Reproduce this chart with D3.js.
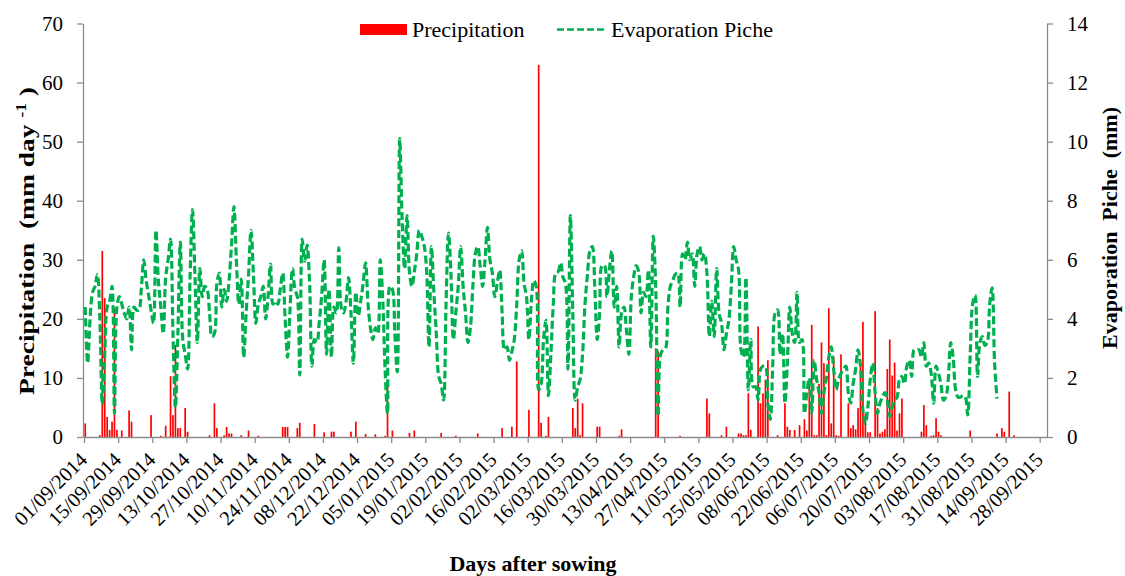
<!DOCTYPE html>
<html>
<head>
<meta charset="utf-8">
<script src="https://cdn.jsdelivr.net/npm/d3@7"></script>
<style>
  html, body { margin: 0; padding: 0; background: #ffffff; }
  svg { display: block; }
  svg text { font-family: "Liberation Serif", "Times New Roman", serif; }
</style>
</head>
<body>
<svg id="chart" width="1125" height="576"></svg>
<script>
// Daily series, one value per day starting 01/09/2014 (rows = fortnights)
const startDate = "2014-09-01";
const endDate = "2015-10-01";

// Precipitation (mm day-1)
const precipitation = [
  2.3,0,0,0,0,0,0.3,31.5,23.5,3.4,1.2,2.6,21.8,1.2,
  0,1.1,0,0,4.5,2.6,0,0,0,0,0,0,0,3.7,
  0,0,0,0.2,0,1.9,0,10.3,3.7,15.6,1.5,1.5,0,4.9,
  0.9,0,0,0,0,0,0,0,0,0.3,0,5.7,1.5,0,
  0,0.3,1.7,0.6,0.6,0,0,0,0.3,0,0,1.1,0,0,
  0,0.2,0,0,0,0,0,0,0,0,0,1.7,1.7,1.7,
  0,0,0,1.5,2.4,0,0,0,0,0,2.2,0,0,0,
  0.8,0,0,0.9,0.9,0,0,0,0,0,0,0.9,0,2.6,
  0,0,0,0.5,0,0,0,0.45,0,0,0,0.2,9.0,0,
  1.1,0,0,0,0,0,0,0.7,0,1.1,0,0,0,0,
  0,0,0,0,0,0,0.7,0,0,0,0,0,0.2,0,
  0,0,0,0,0,0,0,0.6,0,0,0,0,0,0,
  0,0,0,1.5,0,0,0,1.75,0,12.8,0,0,0,0,
  4.6,0,0,0,63.0,2.4,0,0.2,3.4,0,0,0,0,0,
  0,0,0,0,4.9,1.5,6.5,0.3,5.7,0,0,0,0,0,
  1.75,1.75,0,0,0,0,0,0,0,0.2,1.3,0,0,0,
  0,0,0,0,0,0,0,0,0,0,15.0,14.5,0,0,
  0,0,0,0,0,0,0.2,0,0,0,0,0,0,0,
  0,0,0,6.5,4.0,0,0,0,0,0.3,0,1.75,0,0,
  0,0,0.6,0.6,0.3,0.3,7.4,1.2,0,0,18.7,5.7,7.4,9.7,
  13.0,0,0,0,0.3,0,0,5.7,1.75,1.2,0,1.2,0,2.0,
  0,3.0,1.1,9.0,19.0,0.3,0.3,9.0,16.0,12.5,0.3,21.8,2.3,13.5,
  0.3,0.2,14.0,0,0,5.7,1.5,2.0,1.3,4.9,11.9,19.5,4.0,0.8,
  0.8,0,21.3,4.9,0.6,0.9,1.3,11.5,16.5,10.4,12.6,1.1,4.0,6.5,
  0,0,0,0,0,0,0,0.9,5.4,2.0,0,0.2,0.3,3.2,
  0.9,0.3,0,0,0,0,0,0,0,0,0,0,0,1.1,
  0,0,0,0,0,0,0,0,0,0,0.6,0,1.5,0.9,
  0,7.7,0,0.3,0,0,0,0,0,0,0,0,0,0,
  0,0,0
];

// Piche evaporation (mm)
const evaporation = [
  4.4,2.5,4.0,4.9,5.1,5.5,4.0,1.1,2.8,4.4,4.6,5.1,0.8,4.4,
  4.75,4.5,4.2,4.0,4.4,2.95,4.4,4.3,4.3,5.0,6.0,5.3,4.8,4.3,
  3.85,7.0,5.3,4.4,3.5,5.4,6.0,6.7,3.5,1.0,3.5,6.6,3.3,2.8,
  2.3,5.4,7.7,5.5,3.2,5.7,4.75,5.1,5.0,4.2,3.4,3.5,5.2,5.55,
  4.4,5.0,4.6,5.3,6.5,7.8,6.0,4.5,5.35,2.7,4.2,5.5,7.0,5.5,
  3.85,4.5,4.75,5.1,4.0,4.75,5.85,4.5,4.6,4.5,5.0,5.55,4.0,2.7,
  4.3,5.7,5.0,4.75,2.1,6.7,5.95,6.5,5.3,2.4,3.3,3.2,3.9,4.8,
  6.0,2.8,5.0,2.7,4.4,4.2,6.4,4.4,4.2,4.6,5.4,4.2,2.5,4.9,
  4.1,4.6,5.2,5.9,4.5,3.7,3.3,3.7,3.5,6.0,4.75,2.3,0.8,5.1,
  5.0,3.5,2.2,10.1,7.35,5.7,7.5,5.6,5.1,5.6,6.2,7.0,6.8,6.5,
  5.7,3.05,6.45,4.9,3.5,2.05,1.8,1.25,4.5,6.9,5.55,3.3,4.2,5.1,
  6.45,5.1,4.2,3.2,3.7,5.1,6.2,6.45,5.8,5.1,6.0,7.1,6.0,5.55,
  4.75,5.2,5.65,4.2,2.95,3.05,2.6,2.9,3.3,4.5,6.0,6.3,5.2,4.75,
  3.3,4.6,5.3,5.1,1.6,1.8,3.3,3.95,1.4,2.8,4.5,5.55,5.6,5.9,
  5.4,5.2,2.3,7.5,4.2,1.25,1.7,1.95,2.8,4.5,5.5,6.3,6.45,5.1,
  3.3,4.2,5.8,5.8,4.75,5.65,6.3,4.4,5.1,3.05,4.2,4.4,3.6,2.8,
  4.75,5.45,5.8,5.6,4.2,4.9,4.75,5.65,3.05,6.8,5.1,0.7,2.8,2.95,
  3.0,4.4,5.1,5.3,5.5,5.55,4.4,6.2,6.0,6.6,6.0,6.2,5.1,6.2,
  6.45,6.0,6.2,5.55,3.4,4.6,3.4,5.7,4.2,3.85,2.95,3.5,3.95,5.1,
  6.45,6.0,5.65,2.95,2.7,5.4,1.6,3.3,1.7,1.7,1.25,2.3,2.4,2.4,
  1.15,0.6,2.4,4.2,4.3,2.8,3.5,1.15,2.5,4.4,3.5,3.2,4.9,3.2,
  3.3,0.8,1.5,2.0,0.8,2.6,1.95,1.5,0.8,1.5,2.0,2.7,3.05,2.3,
  1.6,1.95,2.15,2.3,2.4,1.5,1.15,1.8,2.3,2.95,2.4,0.9,0.45,1.0,
  1.95,2.5,1.5,0.8,1.15,1.35,1.5,1.25,0.7,1.0,1.25,1.35,1.95,2.05,
  1.8,2.4,2.6,2.05,2.95,2.95,2.95,2.7,3.2,2.4,2.5,2.15,1.15,2.4,
  2.15,1.8,1.25,1.35,1.95,3.2,2.7,1.6,1.35,1.35,1.4,1.35,0.75,2.8,
  4.5,4.8,2.05,3.2,3.4,3.1,3.2,4.5,5.05,2.5,1.3
];

const precipTicks = [0, 10, 20, 30, 40, 50, 60, 70];
const evapTicks = [0, 2, 4, 6, 8, 10, 12, 14];
const tickStepDays = 14;
const tickCount = 29;

const seriesNames = ["Precipitation", "Evaporation Piche"];
const colors = { rain: "#ff0000", evap: "#00b050", axis: "#8c8c8c", text: "#000000" };
const serif = '"Liberation Serif", "Times New Roman", serif';

// ---------------------------------------------------------------
const svg = d3.select("#chart");
const W = 1125, H = 576;
const plot = { left: 84, right: 1047, top: 23.5, bottom: 437 };

svg.append("rect").attr("width", W).attr("height", H).attr("fill", "#fff");

const parse = d3.utcParse("%Y-%m-%d");
const t0 = parse(startDate);
const t1 = parse(endDate);

const x = d3.scaleUtc().domain([t0, t1]).range([plot.left, plot.right]);
const dayW = x(d3.utcDay.offset(t0, 1)) - x(t0);
const cx = i => x(d3.utcDay.offset(t0, i)) + dayW / 2;

const yL = d3.scaleLinear().domain([0, 70]).range([plot.bottom, plot.top]);
const yR = d3.scaleLinear().domain([0, 14]).range([plot.bottom, plot.top]);

// precipitation bars
const barW = 1.7;
svg.append("g").selectAll("rect")
  .data(precipitation.map((v, i) => ({ i, v })).filter(d => d.v > 0))
  .join("rect")
  .attr("x", d => cx(d.i) - barW / 2)
  .attr("width", barW)
  .attr("y", d => yL(d.v))
  .attr("height", d => yL(0) - yL(d.v))
  .attr("fill", colors.rain);

// axes
function styleAxis(g, size) {
  g.attr("font-family", serif).attr("font-size", size);
  g.select(".domain").attr("stroke", colors.axis).attr("stroke-width", 1.3);
  g.selectAll(".tick line").attr("stroke", colors.axis).attr("stroke-width", 1.3);
  g.selectAll("text").attr("fill", colors.text);
}

const tickDates = d3.range(tickCount).map(k => d3.utcDay.offset(t0, k * tickStepDays));
const fmt = d3.utcFormat("%d/%m/%Y");

const gx = svg.append("g")
  .attr("transform", `translate(0,${plot.bottom})`)
  .call(d3.axisBottom(x).tickValues(tickDates).tickFormat(fmt).tickSize(6).tickSizeOuter(0));
styleAxis(gx, 20.5);
gx.selectAll(".tick text")
  .attr("text-anchor", "end")
  .attr("dy", null)
  .attr("y", null)
  .attr("transform", "translate(4,24) rotate(-45)");

const gl = svg.append("g")
  .attr("transform", `translate(${plot.left - 1},0)`)
  .call(d3.axisLeft(yL).tickValues(precipTicks).tickSize(6).tickSizeOuter(0).tickPadding(14));
styleAxis(gl, 21);

const gr = svg.append("g")
  .attr("transform", `translate(${plot.right},0)`)
  .call(d3.axisRight(yR).tickValues(evapTicks).tickSize(6).tickSizeOuter(0).tickPadding(14));
styleAxis(gr, 21);

// evaporation line
const line = d3.line()
  .x((d, i) => cx(i))
  .y(d => yR(d))
  .curve(d3.curveCatmullRom.alpha(0.5));

svg.append("path")
  .datum(evaporation)
  .attr("d", line)
  .attr("fill", "none")
  .attr("stroke", colors.evap)
  .attr("stroke-width", 3.2)
  .attr("stroke-dasharray", "8,3.5");

// legend
const lg = svg.append("g").attr("font-family", serif);
lg.append("rect").attr("x", 360).attr("y", 24).attr("width", 47).attr("height", 11).attr("fill", colors.rain);
lg.append("text").attr("x", 412).attr("y", 37).attr("font-size", 22).text(seriesNames[0]);
lg.append("line").attr("x1", 557).attr("x2", 607).attr("y1", 29.5).attr("y2", 29.5)
  .attr("stroke", colors.evap).attr("stroke-width", 2.5).attr("stroke-dasharray", "7,3");
lg.append("text").attr("x", 611).attr("y", 37).attr("font-size", 22).text(seriesNames[1]);

// axis titles
svg.append("text")
  .attr("x", 533).attr("y", 571)
  .attr("text-anchor", "middle").attr("font-size", 22).attr("font-weight", "bold")
  .text("Days after sowing");

const tl = svg.append("text")
  .attr("transform", "translate(34,241) rotate(-90) scale(1.25,1)")
  .attr("text-anchor", "middle").attr("font-size", 22).attr("font-weight", "bold")
  .style("white-space", "pre");
tl.append("tspan").text("Precipitation  (mm day ");
tl.append("tspan").attr("font-size", 14).attr("dy", -8).text("-1");
tl.append("tspan").attr("dy", 8).text(" )");

svg.append("text")
  .attr("transform", "translate(1117,228) rotate(-90)")
  .attr("text-anchor", "middle").attr("font-size", 22).attr("font-weight", "bold")
  .style("white-space", "pre")
  .text("Evaporation  Piche  (mm)");
</script>
</body>
</html>
